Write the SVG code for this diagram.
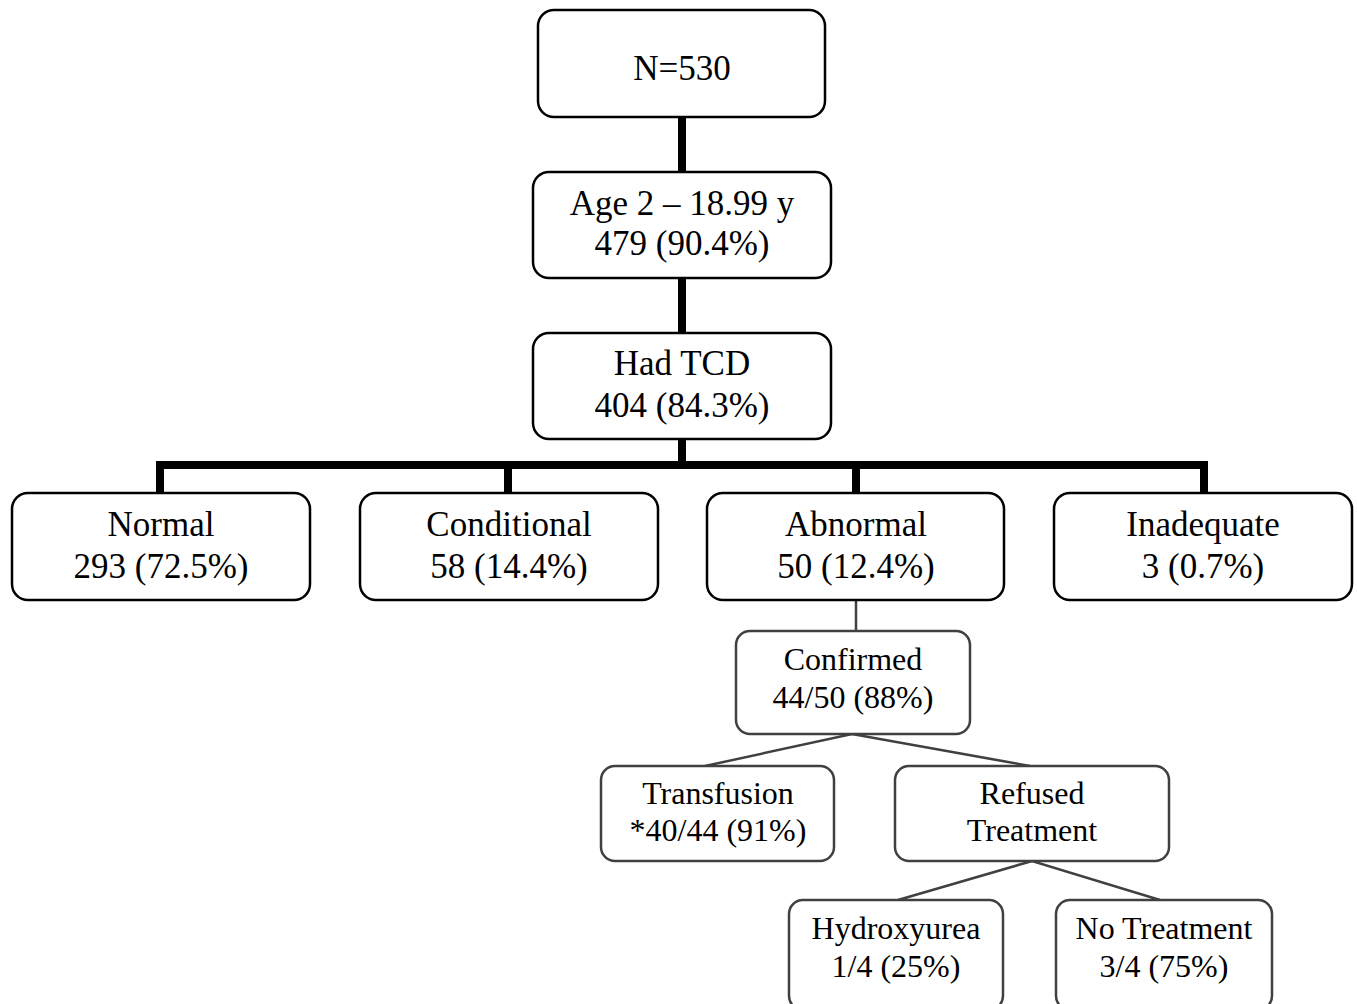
<svg xmlns="http://www.w3.org/2000/svg" width="1357" height="1004" viewBox="0 0 1357 1004">
<style>
.b{fill:#fff;stroke:#000;stroke-width:2.5}
.g{fill:#fff;stroke:#404040;stroke-width:2.5}
.t{font-family:"Liberation Serif","Times New Roman",serif;font-size:35px;fill:#000;text-anchor:middle}
.s{font-family:"Liberation Serif","Times New Roman",serif;font-size:32px;fill:#000;text-anchor:middle}
.k{fill:none;stroke:#000;stroke-width:8}
.l{fill:none;stroke:#404040;stroke-width:2.5}
</style>
<rect width="1357" height="1004" fill="#fff"/>
<g id="connectors">
<line class="k" x1="682" y1="117" x2="682" y2="172"/>
<line class="k" x1="682" y1="278" x2="682" y2="333"/>
<line class="k" x1="682" y1="439" x2="682" y2="465"/>
<polyline class="k" points="160,493 160,465 1204,465 1204,493"/>
<line class="k" x1="508" y1="465" x2="508" y2="493"/>
<line class="k" x1="856" y1="465" x2="856" y2="493"/>
<line class="l" x1="856" y1="600" x2="856" y2="631"/>
<polyline class="l" points="705,766 852,734 1030,766"/>
<polyline class="l" points="898,900 1032,861 1160,900"/>
</g>
<g id="n530"><rect class="b" x="538" y="10" width="287" height="107" rx="16"/><text class="t" x="682" y="80">N=530</text></g>
<g id="age"><rect class="b" x="533" y="172" width="298" height="106" rx="16"/><text class="t" x="682" y="215">Age 2 – 18.99 y</text><text class="t" x="682" y="255">479 (90.4%)</text></g>
<g id="tcd"><rect class="b" x="533" y="333" width="298" height="106" rx="16"/><text class="t" x="682" y="375">Had TCD</text><text class="t" x="682" y="417">404 (84.3%)</text></g>
<g id="normal"><rect class="b" x="12" y="493" width="298" height="107" rx="16"/><text class="t" x="161" y="536">Normal</text><text class="t" x="161" y="578">293 (72.5%)</text></g>
<g id="conditional"><rect class="b" x="360" y="493" width="298" height="107" rx="16"/><text class="t" x="509" y="536">Conditional</text><text class="t" x="509" y="578">58 (14.4%)</text></g>
<g id="abnormal"><rect class="b" x="707" y="493" width="297" height="107" rx="16"/><text class="t" x="856" y="536">Abnormal</text><text class="t" x="856" y="578">50 (12.4%)</text></g>
<g id="inadequate"><rect class="b" x="1054" y="493" width="298" height="107" rx="16"/><text class="t" x="1203" y="536">Inadequate</text><text class="t" x="1203" y="578">3 (0.7%)</text></g>
<g id="confirmed"><rect class="g" x="736" y="631" width="234" height="103" rx="14"/><text class="s" x="853" y="670">Confirmed</text><text class="s" x="853" y="708">44/50 (88%)</text></g>
<g id="transfusion"><rect class="g" x="601" y="766" width="233" height="95" rx="14"/><text class="s" x="718" y="804">Transfusion</text><text class="s" x="718" y="841">*40/44 (91%)</text></g>
<g id="refused"><rect class="g" x="895" y="766" width="274" height="95" rx="14"/><text class="s" x="1032" y="804">Refused</text><text class="s" x="1032" y="841">Treatment</text></g>
<g id="hydroxyurea"><rect class="g" x="789" y="900" width="214" height="110" rx="14"/><text class="s" x="896" y="939">Hydroxyurea</text><text class="s" x="896" y="977">1/4 (25%)</text></g>
<g id="notreatment"><rect class="g" x="1056" y="900" width="216" height="110" rx="14"/><text class="s" x="1164" y="939">No Treatment</text><text class="s" x="1164" y="977">3/4 (75%)</text></g>
</svg>
